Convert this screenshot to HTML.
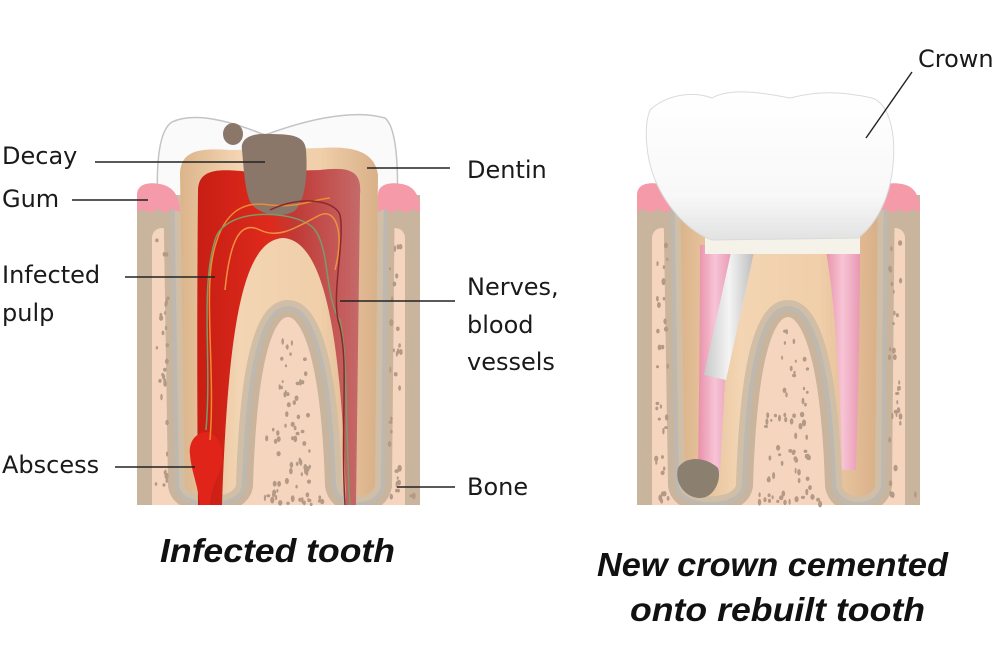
<!DOCTYPE html>
<html><head><meta charset="utf-8"><style>
html,body{margin:0;padding:0;background:#fff;}
svg{display:block}
.l{font-family:"DejaVu Sans","Liberation Sans",sans-serif;font-size:24px;fill:#1a1a1a}
.t{font-family:"Liberation Sans",sans-serif;font-weight:bold;font-style:italic;font-size:33px;fill:#111}
</style></head><body>
<svg id="s" width="1000" height="667" viewBox="0 0 1000 667" xmlns="http://www.w3.org/2000/svg">
<defs>
<linearGradient id="crownG" x1="0" y1="0" x2="0" y2="1"><stop offset="0" stop-color="#ffffff"/><stop offset="0.7" stop-color="#f8f8f8"/><stop offset="1" stop-color="#e2e2e2"/></linearGradient>
<linearGradient id="dentG" x1="0" y1="0" x2="1" y2="0"><stop offset="0" stop-color="#dcb48a"/><stop offset="0.3" stop-color="#f3d5b3"/><stop offset="0.7" stop-color="#f0cfaa"/><stop offset="1" stop-color="#d9b088"/></linearGradient>
<linearGradient id="pulpR" x1="0" y1="0" x2="1" y2="0"><stop offset="0" stop-color="#c81e14"/><stop offset="0.45" stop-color="#de2a1c"/><stop offset="0.6" stop-color="#c03a36"/><stop offset="1" stop-color="#c56a6a"/></linearGradient>
<linearGradient id="pinkG" x1="0" y1="0" x2="1" y2="0"><stop offset="0" stop-color="#e890a8"/><stop offset="0.5" stop-color="#f7c4d6"/><stop offset="1" stop-color="#e899b2"/></linearGradient>
<linearGradient id="postG" x1="0" y1="0" x2="1" y2="0"><stop offset="0" stop-color="#c8c8c8"/><stop offset="0.5" stop-color="#f4f4f4"/><stop offset="1" stop-color="#bdbdbd"/></linearGradient>
<clipPath id="blk"><rect x="137" y="195" width="283" height="310"/></clipPath>
<path id="dshape" d="M180,175 C180,150 200,148 230,150 L320,148 C350,146 375,150 378,175 L375,485 C372,500 345,500 342,485 C338,360 320,300 288,300 C255,300 240,360 236,485 C233,500 188,500 185,485 Z"/>
<g id="base">
 <g clip-path="url(#blk)">
  <rect x="137" y="195" width="283" height="310" fill="#f6d5be"/>
  <rect x="137" y="195" width="16" height="310" fill="#c9b59d"/>
  <rect x="404" y="195" width="16" height="310" fill="#c9b59d"/>
  <rect x="137" y="195" width="45" height="40" fill="#c9b59d"/>
  <rect x="376" y="195" width="44" height="40" fill="#c9b59d"/>
  <rect x="152" y="228" width="20" height="290" rx="10" fill="#f6d5be"/>
  <rect x="385" y="228" width="20" height="290" rx="10" fill="#f6d5be"/>
  <use href="#dshape" fill="none" stroke="#c9b59d" stroke-width="34"/>
  <use href="#dshape" fill="none" stroke="#bdb8b0" stroke-width="20"/>
  <use href="#dshape" fill="none" stroke="#d0bea6" stroke-width="12"/>
 </g>
  <path d="M137,212 L137,195 C137,183 150,182 160,184 C172,186 180,195 180,212 L172,209 L165,213 L158,209 L150,213 L143,209 Z" fill="#f49aa8"/>
  <path d="M378,212 L378,195 C378,183 392,182 402,184 C414,186 420,195 420,212 L413,209 L406,213 L399,209 L392,213 L385,209 Z" fill="#f49aa8"/>
</g>
</defs>

<!-- LEFT TOOTH -->
<path d="M160,232 C155,180 156,132 172,122 C198,110 240,125 265,135 C300,122 350,108 385,118 C400,130 398,190 397,232 Z" fill="#fafafa" stroke="#c4c4c4" stroke-width="1.5"/>
<use href="#base"/>
<g id="dots1"></g>
<use href="#dshape" fill="url(#dentG)"/>
<path d="M198,190 C199,170 215,168 250,172 L320,170 C352,166 362,172 360,195 L356,505 L346,505 C342,340 325,240 283,238 C242,240 228,330 222,505 L198,505 C197,400 197,300 198,190 Z" fill="url(#pulpR)"/>
<path d="M242,150 C240,138 252,133 268,134 C290,134 305,135 306,150 C308,175 305,205 293,212 C280,218 262,215 252,205 C245,195 244,170 242,150 Z" fill="#8b766a"/>
<ellipse cx="233" cy="134" rx="10" ry="11" fill="#8b766a"/>
<path d="M190,455 C188,440 198,432 206,432 C216,432 224,445 222,462 C220,476 212,482 210,505 L200,505 C198,485 191,470 190,455 Z" fill="#e0241a"/>
<g fill="none" stroke-width="1.5">
<path d="M210,440 C215,380 205,300 212,260 C220,215 240,200 270,205 C300,208 310,200 330,198" stroke="#f08a30"/>
<path d="M206,430 C212,360 200,290 215,240 C225,205 300,210 315,230 C330,250 325,300 340,320 C348,360 345,420 350,505" stroke="#7a9a6a"/>
<path d="M225,290 C230,240 240,220 260,230 C280,240 300,225 320,215 C335,208 345,230 335,270" stroke="#f09040"/>
<path d="M345,505 C340,420 350,360 338,320 C332,290 345,240 340,215 C335,200 300,195 270,210" stroke="#8a2a2a"/>
</g>

<!-- RIGHT TOOTH -->
<g transform="translate(500,0)">
<use href="#base"/>
<g id="dots2"></g>
<use href="#dshape" fill="url(#dentG)"/>
<path d="M200,245 L232,245 C228,330 224,400 220,472 L198,472 C199,400 200,320 200,245 Z" fill="url(#pinkG)"/>
<path d="M325,245 L360,245 C360,330 358,400 356,470 L342,470 C340,380 335,300 325,245 Z" fill="url(#pinkG)"/>
<path d="M178,468 C185,456 205,456 218,468 C222,480 214,498 200,498 C186,498 174,484 178,468 Z" fill="#8b8070"/>
<path d="M232,248 L254,252 L226,380 L204,375 Z" fill="url(#postG)"/>
<rect x="205" y="230" width="155" height="24" fill="#f5f2ea"/>
</g>
<path d="M650,110 C665,96 690,90 712,98 C730,88 760,92 790,98 C820,90 845,92 872,98 C890,104 896,135 893,165 C890,200 875,225 858,238 L712,240 C690,232 668,210 655,180 C645,155 644,125 650,110 Z" fill="url(#crownG)" stroke="#dadada" stroke-width="1"/>

<!-- labels -->
<g stroke="#222" stroke-width="1.4">
<line x1="95" y1="162" x2="265" y2="162"/>
<line x1="72" y1="200" x2="148" y2="200"/>
<line x1="125" y1="277" x2="215" y2="277"/>
<line x1="115" y1="467" x2="195" y2="467"/>
<line x1="367" y1="168" x2="450" y2="168"/>
<line x1="340" y1="301" x2="455" y2="301"/>
<line x1="397" y1="487" x2="455" y2="487"/>
<line x1="912" y1="72" x2="866" y2="138"/>
</g>
<text class="l" x="2" y="164">Decay</text>
<text class="l" x="2" y="207">Gum</text>
<text class="l" x="2" y="283">Infected</text>
<text class="l" x="2" y="321">pulp</text>
<text class="l" x="2" y="473">Abscess</text>
<text class="l" x="467" y="178">Dentin</text>
<text class="l" x="467" y="295">Nerves,</text>
<text class="l" x="467" y="333">blood</text>
<text class="l" x="467" y="370">vessels</text>
<text class="l" x="467" y="495">Bone</text>
<text class="l" x="918" y="67">Crown</text>
<text class="t" x="160" y="562" textLength="235" lengthAdjust="spacingAndGlyphs">Infected tooth</text>
<text class="t" x="597" y="576" textLength="351" lengthAdjust="spacingAndGlyphs">New crown cemented</text>
<text class="t" x="630" y="621" textLength="295" lengthAdjust="spacingAndGlyphs">onto rebuilt tooth</text>
</svg>
<script>
(function(){
var seed=7;function r(){seed=(seed*16807)%2147483647;return seed/2147483647;}
var ns="http://www.w3.org/2000/svg";
function fill(id){
  var g=document.getElementById(id);
  var regions=[[156,240,168,505],[389,240,401,505],[262,325,312,505],[160,492,420,505]];
  regions.forEach(function(R,k){
    var n=Math.round((R[2]-R[0])*(R[3]-R[1])/110);
    for(var i=0;i<n;i++){
      var x=R[0]+r()*(R[2]-R[0]),y=R[1]+r()*(R[3]-R[1]);
      if(k===3){ if((x>172&&x<250)||(x>325&&x<385)) continue; }
      if(k===2){ var half=Math.min(22,(y-320)/2); if(Math.abs(x-288)>half) continue;}
      var e=document.createElementNS(ns,"ellipse");
      e.setAttribute("cx",x.toFixed(1));e.setAttribute("cy",y.toFixed(1));
      e.setAttribute("rx",(1+r()*1.2).toFixed(1));e.setAttribute("ry",(1.5+r()*2).toFixed(1));
      e.setAttribute("fill","#b39a86");g.appendChild(e);
    }
  });
}
fill("dots1");fill("dots2");
})();
</script>
</body></html>
